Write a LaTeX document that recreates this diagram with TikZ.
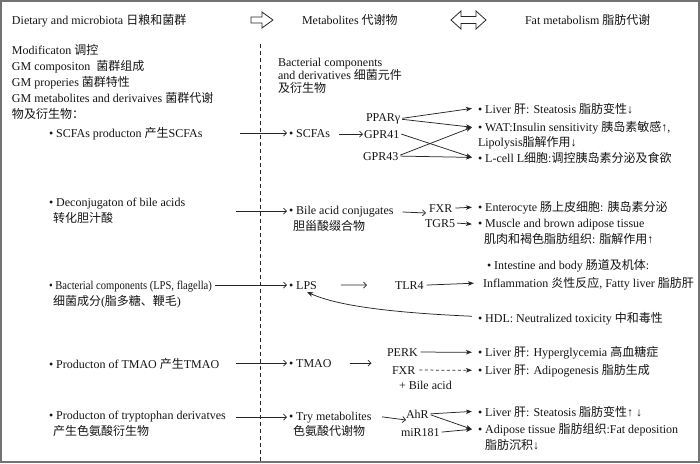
\documentclass[tikz,border=0pt]{standalone}
\usepackage{fontspec}
\usepackage{graphicx}
\setmainfont{Liberation Serif}
\newfontfamily\cjk{Noto Sans CJK SC}
\usetikzlibrary{arrows.meta}
\newcommand\zh[1]{{\cjk #1}}
\begin{document}
\begin{tikzpicture}[x=1pt,y=-1pt,
  txt/.style={anchor=base west, inner sep=0pt, outer sep=0pt, font=\fontsize{12}{14}\selectfont, text=black!92},
  ln/.style={draw=black!85, line width=0.75pt},
  oarr/.style={ln, -{Straight Barb[length=3pt,width=6pt]}},
  farr/.style={ln, -{Stealth[length=6pt,width=4.5pt,inset=1.5pt]}},
  blk/.style={draw=black!85, line width=0.8pt, fill=white, line join=miter},
  sep/.style={draw=black!85, line width=0.8pt, dash pattern=on 4pt off 3pt}
]
\useasboundingbox (0,0) rectangle (700,463);
\draw[draw=black!55, line width=1.6pt] (0.8,0.8) rectangle (699.2,462.2);

% headers
\node[txt] (hdiet) at (12,24) {Dietary and microbiota \zh{日粮和菌群}};
\node[txt] (hmet) at (302,24) {Metabolites \zh{代谢物}};
\node[txt] (hfat) at (525,24) {Fat metabolism \zh{脂肪代谢}};
\draw[blk] (251,17) -- (262,17) -- (262,12) -- (273,20) -- (262,28) -- (262,23) -- (251,23) -- cycle;
\draw[blk] (451,20) -- (461,11) -- (461,16.5) -- (476,16.5) -- (476,11) -- (486,20) -- (476,29) -- (476,23.5) -- (461,23.5) -- (461,29) -- cycle;

% separator
\draw[sep] (260,44) -- (260,463);

% left column
\node[txt] (l1) at (12,54) {Modificaton \zh{调控}};
\node[txt] (l2) at (12,70) {GM compositon\ \ \zh{菌群组成}};
\node[txt] (l3) at (12,86) {GM properies \zh{菌群特性}};
\node[txt] (l4) at (12,102) {GM metabolites and derivaives \zh{菌群代谢}};
\node[txt] (l5) at (12,118) {\zh{物及衍生物：}};
\node[txt] (scfap) at (49,137) {• SCFAs producton \zh{产生}SCFAs};
\node[txt] (deconj) at (49,206) {• Deconjugaton of bile acids};
\node[txt] (deconj2) at (53,222) {\zh{转化胆汁酸}};
\node[txt] (bact) at (49,289) {\scalebox{0.88}[1]{• Bacterial components (LPS, flagella)}};
\node[txt] (bact2) at (53,305) {\zh{细菌成分}(\zh{脂多糖、鞭毛})};
\node[txt] (tmaop) at (49,368) {• Producton of TMAO \zh{产生}TMAO};
\node[txt] (tryp) at (49,419) {• Producton of tryptophan derivatves};
\node[txt] (tryp2) at (53,435) {\zh{产生色氨酸衍生物}};

% middle column
\node[txt] (bc1) at (278,66) {Bacterial components};
\node[txt] (bc2) at (278,79) {and derivatives \zh{细菌元件}};
\node[txt] (bc3) at (278,92) {\zh{及衍生物}};
\node[txt] (scfa) at (289,137) {• SCFAs};
\node[txt] (bile) at (289,214) {• Bile acid conjugates};
\node[txt] (bile2) at (293,230) {\zh{胆甾酸缀合物}};
\node[txt] (lps) at (289,289) {• LPS};
\node[txt] (tmao) at (289,367) {• TMAO};
\node[txt] (try) at (289,420) {• Try metabolites};
\node[txt] (try2) at (293,435) {\zh{色氨酸代谢物}};

% receptors
\node[txt] (ppar) at (366,121) {PPARγ};
\node[txt] (gpr41) at (364,138) {GPR41};
\node[txt] (gpr43) at (363,160) {GPR43};
\node[txt] (fxr) at (429,212) {FXR};
\node[txt] (tgr5) at (425,227) {TGR5};
\node[txt] (tlr4) at (395,289) {TLR4};
\node[txt] (perk) at (387,356) {PERK};
\node[txt] (fxr2) at (392,374) {FXR};
\node[txt] (bacid) at (399,389) {+ Bile acid};
\node[txt] (ahr) at (406,418) {AhR};
\node[txt] (mir) at (401,436) {miR181};

% right column
\node[txt] (liv1) at (478,113) {• Liver \zh{肝}: Steatosis \zh{脂肪变性}↓};
\node[txt] (wat) at (478,131) {• WAT:Insulin sensitivity \zh{胰岛素敏感}↑,};
\node[txt] (lipo) at (478,146) {Lipolysis\zh{脂解作用}↓};
\node[txt] (lcell) at (478,162) {• L-cell L\zh{细胞}:\zh{调控胰岛素分泌及食欲}};
\node[txt] (ent) at (478,211) {• Enterocyte \zh{肠上皮细胞}: \zh{胰岛素分泌}};
\node[txt] (mus) at (478,227) {• Muscle and brown adipose tissue};
\node[txt] (mus2) at (484,243) {\zh{肌肉和褐色脂肪组织}: \zh{脂解作用}↑};
\node[txt] (int) at (487,269) {• Intestine and body \zh{肠道及机体}:};
\node[txt] (inf) at (483,287) {Inflammation \zh{炎性反应}, Fatty liver \zh{脂肪肝}};
\node[txt] (hdl) at (478,322) {• HDL: Neutralized toxicity \zh{中和毒性}};
\node[txt] (liv2) at (478,356) {• Liver \zh{肝}: Hyperglycemia \zh{高血糖症}};
\node[txt] (liv3) at (478,374) {• Liver \zh{肝}: Adipogenesis \zh{脂肪生成}};
\node[txt] (liv4) at (478,416) {• Liver \zh{肝}: Steatosis \zh{脂肪变性}↑ ↓};
\node[txt] (adi) at (478,433) {• Adipose tissue \zh{脂肪组织}:Fat deposition};
\node[txt] (adi2) at (485,449) {\zh{脂肪沉积}↓};

% left -> middle
\draw[oarr] ([xshift=-49pt]scfa.west) -- ([xshift=-2pt]scfa.west);
\draw[oarr] ([xshift=-53pt]bile.west) -- ([xshift=-2pt]bile.west);
\draw[oarr] ([xshift=3pt]bact.east |- lps.west) -- ([xshift=-2pt]lps.west);
\draw[oarr] ([xshift=-53pt]tmao.west) -- ([xshift=-2pt]tmao.west);
\draw[oarr] ([xshift=-53pt]try.west) -- ([xshift=-2pt]try.west);

% middle -> receptors
\draw[oarr] ([xshift=9pt]scfa.east |- gpr41.west) -- ([xshift=-1pt]gpr41.west);
\draw[oarr] ([xshift=9pt]bile.east |- fxr.south) -- ([xshift=-3pt,yshift=-1pt]fxr.south west);
\draw[oarr] ([xshift=24pt]lps.east) -- ([xshift=-28pt]tlr4.west);
\draw[oarr] ([xshift=18pt]tmao.east) -- ([xshift=40pt]tmao.east);
\draw[oarr] ([xshift=-24pt,yshift=-3pt]ahr.west) -- ([xshift=0pt,yshift=-2pt]ahr.south west);

% receptors -> effects
\draw[farr] ([xshift=2pt]ppar.east) -- ([xshift=-6pt]liv1.west);
\draw[farr] ([xshift=2pt,yshift=-1pt]ppar.east) -- ([xshift=-6pt]wat.west);
\draw[farr] ([xshift=2pt]gpr41.east) -- ([xshift=-6pt]lcell.west);
\draw[farr] ([xshift=2pt,yshift=1pt]gpr43.east) -- ([xshift=-6pt]wat.west);
\draw[farr] ([xshift=2pt]gpr43.east) -- ([xshift=-6pt]lcell.west);
\draw[farr] ([xshift=3pt]fxr.east) -- ([xshift=-6pt]ent.west);
\draw[farr] ([xshift=2pt]tgr5.east) -- ([xshift=-6pt]mus.west);
\draw[farr] ([xshift=3pt]tlr4.east) -- ([xshift=-9pt]inf.west);
\draw[farr] ([xshift=-6pt,yshift=2pt]hdl.west) .. controls (400,313) and (340,307) .. ([xshift=18pt,yshift=-3pt]lps.base west);
\draw[farr] ([xshift=3pt]perk.east) -- ([xshift=-6pt]liv2.west);
\draw[farr, dash pattern=on 3pt off 2.5pt] ([xshift=4pt]fxr2.east) -- ([xshift=-6pt]liv3.west);
\draw[farr] ([xshift=2pt]ahr.east) -- ([xshift=-6pt]liv4.west);
\draw[farr] ([xshift=2pt,yshift=-1pt]ahr.east) -- ([xshift=-6pt]adi.west);
\draw[farr] ([xshift=2pt]mir.east) -- ([xshift=-6pt]adi.west);
\end{tikzpicture}
\end{document}
